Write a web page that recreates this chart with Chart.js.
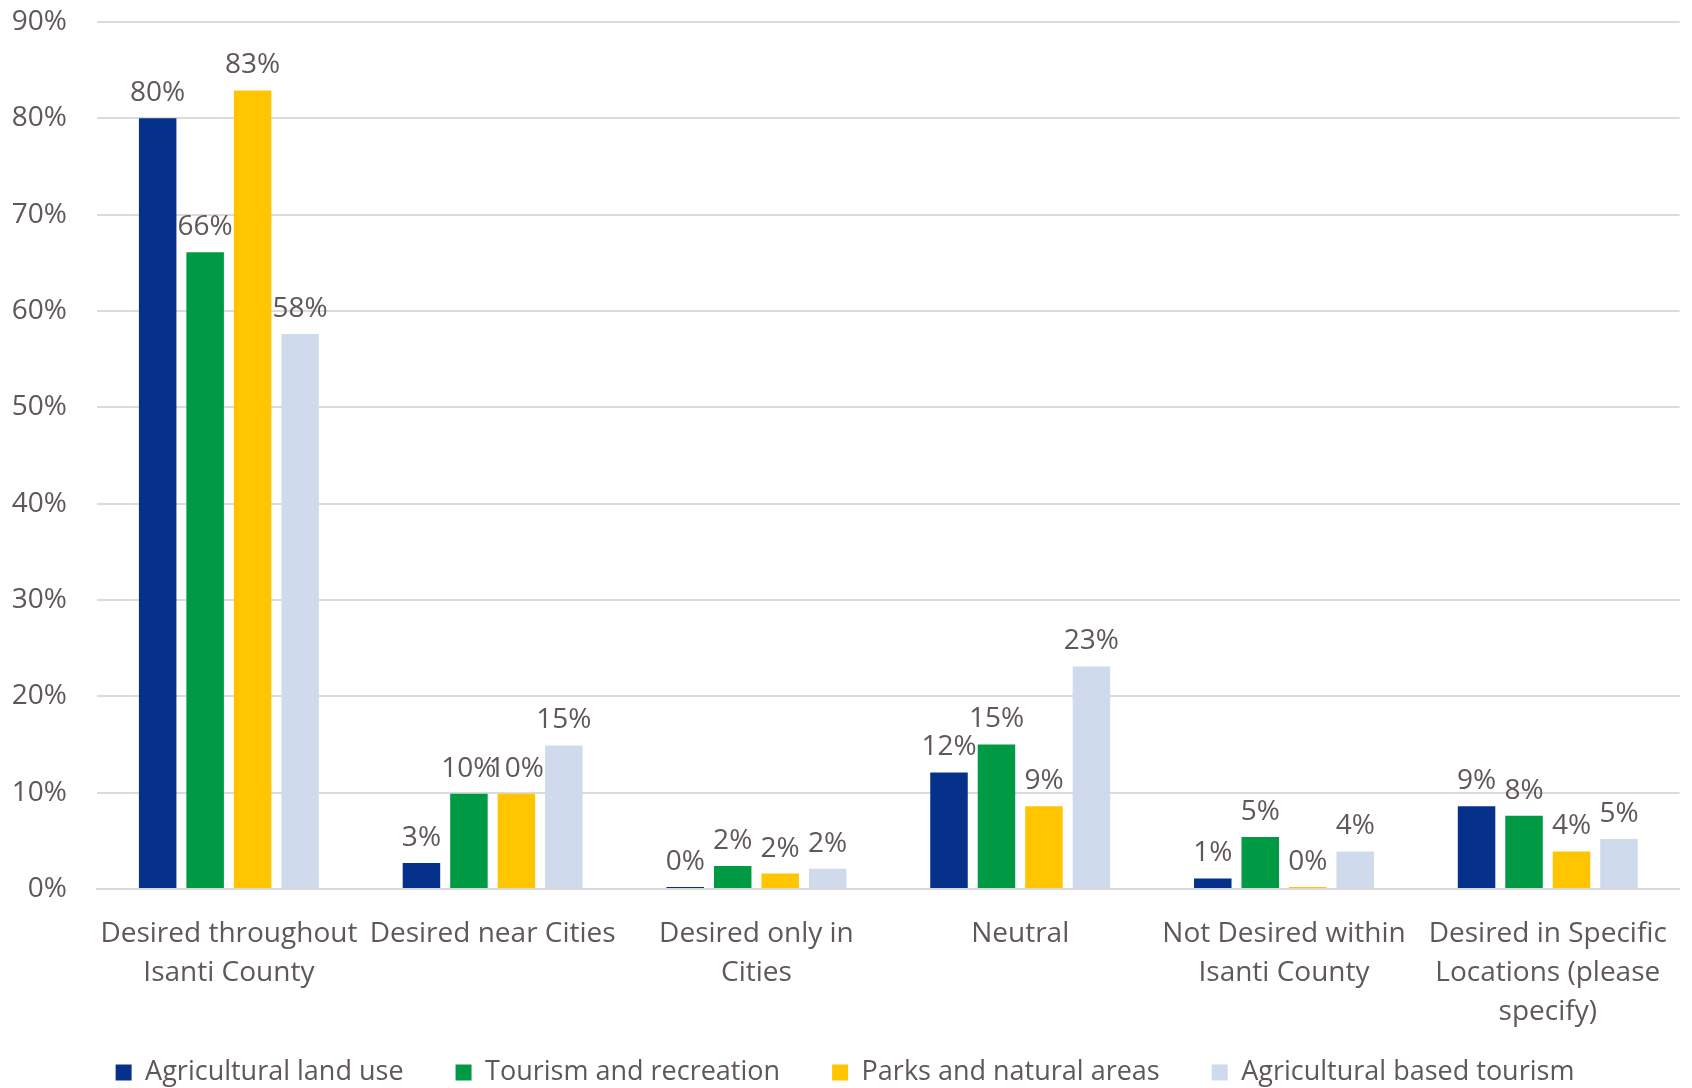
<!DOCTYPE html>
<html>
<head>
<meta charset="utf-8">
<script src="https://cdn.jsdelivr.net/npm/chart.js@4/dist/chart.umd.min.js"></script>
<style>
  html, body { margin: 0; padding: 0; background: #ffffff; }
  #wrap { width: 1692px; height: 1088px; position: relative; }
</style>
</head>
<body>
<div id="wrap"><canvas id="chart"></canvas></div>
<script>
const categories = [
  ["Desired throughout", "Isanti County"],
  ["Desired near Cities"],
  ["Desired only in", "Cities"],
  ["Neutral"],
  ["Not Desired within", "Isanti County"],
  ["Desired in Specific", "Locations (please", "specify)"],
];
const seriesNames = ["Agricultural land use", "Tourism and recreation", "Parks and natural areas", "Agricultural based tourism"];
const agriculturalLandUse = [80.0, 2.7, 0.2, 12.1, 1.1, 8.6];
const tourismRecreation = [66.1, 9.9, 2.4, 15.0, 5.4, 7.6];
const parksNaturalAreas = [82.9, 9.9, 1.6, 8.6, 0.2, 3.9];
const agriculturalTourism = [57.6, 14.9, 2.1, 23.1, 3.9, 5.2];
const yTicks = [0, 10, 20, 30, 40, 50, 60, 70, 80, 90];

const colors = ["#06318A", "#009A44", "#FFC501", "#CFDAED"];
const textColor = "#5f5759";
const fontFamily = "'Open Sans', 'Noto Sans', sans-serif";

// draws the value above each bar
const barLabels = {
  id: "barLabels",
  afterDatasetsDraw(chart) {
    const ctx = chart.ctx;
    ctx.save();
    ctx.font = "28px " + fontFamily;
    ctx.fillStyle = textColor;
    ctx.textAlign = "center";
    ctx.textBaseline = "bottom";
    chart.data.datasets.forEach((ds, i) => {
      chart.getDatasetMeta(i).data.forEach((bar, j) => {
        ctx.fillText(Math.round(ds.data[j]) + "%", bar.x, bar.y - 11);
      });
    });
    ctx.restore();
  },
};

// pull the legend up a little, closer to the axis labels
const legendShift = {
  id: "legendShift",
  afterLayout(chart) {
    chart.legend.top -= 24;
    chart.legend.bottom -= 24;
  },
};

const values = [agriculturalLandUse, tourismRecreation, parksNaturalAreas, agriculturalTourism];

new Chart(document.getElementById("chart"), {
  type: "bar",
  data: {
    labels: categories,
    datasets: values.map((v, i) => ({
      label: seriesNames[i],
      data: v,
      backgroundColor: colors[i],
      borderWidth: 0,
      categoryPercentage: 0.72,
      barPercentage: 0.79,
    })),
  },
  options: {
    responsive: true,
    maintainAspectRatio: false,
    animation: false,
    layout: { padding: { top: 22, right: 2, left: 0, bottom: -32 } },
    plugins: {
      legend: {
        position: "bottom",
        labels: {
          boxWidth: 16,
          boxHeight: 16,
          padding: 52,
          color: textColor,
          font: { family: fontFamily, size: 27 },
        },
      },
      tooltip: { enabled: false },
    },
    scales: {
      x: {
        grid: { display: false, drawTicks: false },
        border: { color: "#d9d9d9", width: 2 },
        ticks: {
          color: textColor,
          font: { family: fontFamily, size: 28, lineHeight: 1.4 },
          padding: 25,
          maxRotation: 0,
          autoSkip: false,
        },
        afterFit(scale) { scale.height = 142; },
      },
      y: {
        min: 0,
        max: 90,
        afterBuildTicks(scale) { scale.ticks = yTicks.map(v => ({ value: v })); },
        grid: { color: "#dedada", lineWidth: 2, drawTicks: false },
        border: { display: false },
        ticks: {
          color: textColor,
          font: { family: fontFamily, size: 28 },
          padding: 30,
          callback: v => v + "%",
        },
        afterFit(scale) {
          scale.width = 97;
          scale.paddingTop = 0;
          scale.paddingBottom = 0;
        },
      },
    },
  },
  plugins: [barLabels, legendShift],
});
</script>
</body>
</html>
